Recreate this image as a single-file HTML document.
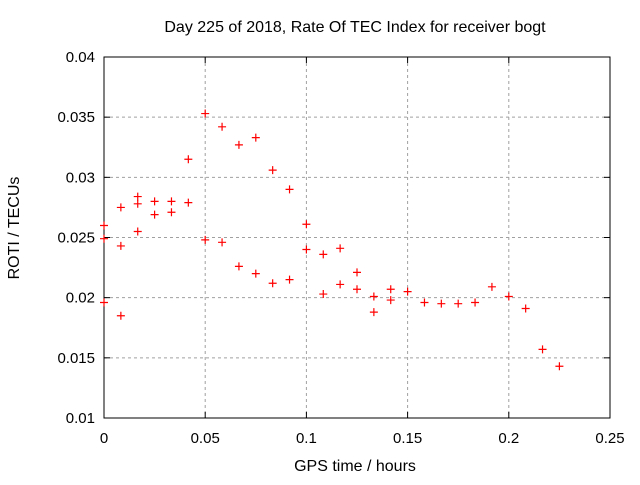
<!DOCTYPE html>
<html><head><meta charset="utf-8"><style>
body{margin:0;background:#fff}
svg text{font-family:"Liberation Sans",sans-serif;font-size:15px;fill:#000}
svg text.big{font-size:16px}
</style></head><body>
<svg width="640" height="480">
<g id="grid"></g>
<rect x="104" y="57" width="506" height="361" fill="none" stroke="#000" stroke-width="1"/>
<g id="ticks"></g>
<g id="pts"></g>
<text class="big" x="355" y="32" text-anchor="middle">Day 225 of 2018, Rate Of TEC Index for receiver bogt</text>
<text class="big" x="355" y="471" text-anchor="middle">GPS time / hours</text>
<text class="big" transform="translate(19,228) rotate(-90)" text-anchor="middle">ROTI / TECUs</text>
</svg>
<script>
const xTicks=[0,0.05,0.1,0.15,0.2,0.25];
const xTickLabels=["0","0.05","0.1","0.15","0.2","0.25"];
const yTicks=[0.01,0.015,0.02,0.025,0.03,0.035,0.04];
const yTickLabels=["0.01","0.015","0.02","0.025","0.03","0.035","0.04"];
const timeIndex=[0,0,0,1,1,1,2,2,2,3,3,4,4,5,5,6,6,7,7,8,8,9,9,10,10,11,11,12,12,13,13,14,14,15,15,16,16,17,17,18,19,20,21,22,23,24,25,26,27];
const rotiValues=[0.0260,0.0249,0.0196,0.0275,0.0243,0.0185,0.0284,0.0278,0.0255,0.0280,0.0269,0.0280,0.0271,0.0315,0.0279,0.0353,0.0248,0.0342,0.0246,0.0327,0.0226,0.0333,0.0220,0.0306,0.0212,0.0290,0.0215,0.0261,0.0240,0.0236,0.0203,0.0241,0.0211,0.0221,0.0207,0.0201,0.0188,0.0207,0.0198,0.0205,0.0196,0.0195,0.0195,0.0196,0.0209,0.0201,0.0191,0.0157,0.0143];
const NS="http://www.w3.org/2000/svg";
const X0=104,X1=610,Y0=418,Y1=57;
const sx=v=>X0+(v-0)/(0.25)*(X1-X0);
const sy=v=>Y0-(v-0.01)/(0.03)*(Y0-Y1);
function mk(t,a,p){const e=document.createElementNS(NS,t);for(const k in a)e.setAttribute(k,a[k]);p.appendChild(e);return e;}
const grid=document.getElementById('grid'),ticks=document.getElementById('ticks'),pts=document.getElementById('pts');
xTicks.forEach((v,i)=>{const x=sx(v);
 if(i>0&&i<xTicks.length-1){const g=mk('line',{x1:x,x2:x,y1:Y1,y2:Y0,stroke:'#a0a0a0','stroke-dasharray':'3,3'},grid);
 
 }
 mk('line',{x1:x,x2:x,y1:Y0,y2:Y0-6,stroke:'#000'},ticks);mk('line',{x1:x,x2:x,y1:Y1,y2:Y1+6,stroke:'#000'},ticks);
 const t=mk('text',{x:x,y:Y0+25,'text-anchor':'middle'},ticks);t.textContent=xTickLabels[i];
 
 });
yTicks.forEach((v,i)=>{const y=sy(v);
 if(i>0&&i<yTicks.length-1){const g=mk('line',{x1:X0,x2:X1,y1:y,y2:y,stroke:'#a0a0a0','stroke-dasharray':'3,3'},grid);
 
 }
 mk('line',{x1:X0,x2:X0+6,y1:y,y2:y,stroke:'#000'},ticks);mk('line',{x1:X1,x2:X1-6,y1:y,y2:y,stroke:'#000'},ticks);
 const t=mk('text',{x:X0-9,y:y+5,'text-anchor':'end'},ticks);t.textContent=yTickLabels[i];
 
 });
timeIndex.forEach((k,i)=>{const x=sx(k/120),y=sy(rotiValues[i]);
 const p=mk('path',{d:`M${x-4},${y}H${x+4}M${x},${y-4}V${y+4}`,stroke:'#f00','stroke-width':1.2,fill:'none'},pts);
 
 });
</script>
</body></html>
